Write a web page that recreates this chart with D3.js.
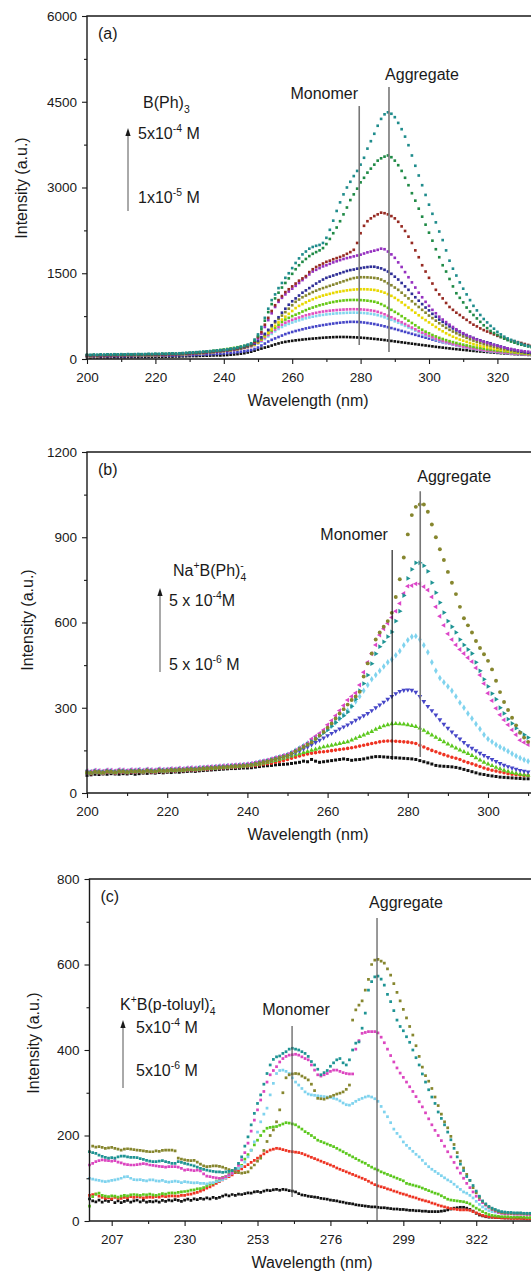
<!DOCTYPE html>
<html>
<head>
<meta charset="utf-8">
<script src="https://cdn.jsdelivr.net/npm/d3@7"></script>
<style>
body { margin: 0; background: #fff; }
text { font-family: "Liberation Sans", Arial, Helvetica, sans-serif; fill: #1a1a1a; }
</style>
</head>
<body>
<svg id="chart" width="531" height="1275"></svg>
<script>
// ---------- panel (a) B(Ph)3, one value per nm from 200 nm ----------
var aBlack = [28,26,30,27,29,31,28,30,32, 30,33,31,34,32,35,33,36,34,37, 36,38,40,38,41,43,42,45,44,47, 48,50,52,51,55,57,58,60,62,64, 62,66,70,75,80,86,93,102,115,128, 145,165,182,200,216,235,255,272,288,300, 310,318,326,333,340,346,352,357,362,367, 372,376,379,382,384,385,385,384,382,380, 377,373,369,364,358,352,346,339,332,324, 316,308,300,292,284,276,268,260,252,244, 237,229,221,213,206,199,192,185,178,172, 166,160,154,148,142,137,132,127,122,117, 112,107,102,98,94,90,86,82,78,75,72,70];
var aBlue = [48,46,50,47,52,49,51,48,53, 50,52,49,54,51,53,55,52,56,54, 57,55,58,60,57,62,60,63,65,63, 67,70,68,73,75,78,80,84,87,90, 94,98,103,108,114,120,128,136,146,158, 175,200,235,270,305,335,360,385,410,435, 455,473,490,505,520,535,548,560,572,583, 593,602,612,620,628,635,641,646,650,650, 648,644,638,630,621,611,599,586,572,557, 541,525,508,491,474,457,440,423,406,389, 373,357,340,324,309,294,280,267,255,244, 233,222,210,198,187,176,166,157,148,140, 132,125,119,113,107,102,97,92,87,83,79,75];
var aCyan = [58,56,60,57,62,59,63,60,65, 62,66,64,68,65,69,67,71,68,73, 71,75,73,78,76,80,82,79,84,87, 90,93,97,101,105,109,114,119,125,131, 137,143,150,157,165,174,185,197,211,226, 240,270,305,350,395,440,485,525,560,590, 615,638,658,677,695,712,727,740,752,763, 772,780,787,793,798,802,805,808,810,811, 810,808,804,798,790,780,767,750,730,708, 685,660,634,607,580,552,524,496,469,442, 416,391,367,345,324,304,286,268,252,237, 223,210,198,187,176,166,157,148,140,133, 126,120,114,108,103,98,93,88,84,80,76,72];
var aPink = [52,50,54,51,56,53,57,54,59, 56,60,58,62,59,63,61,65,62,67, 65,69,67,72,70,74,76,73,78,81, 85,88,92,96,100,104,109,114,120,126, 132,138,145,152,160,169,180,192,206,222, 245,280,320,370,420,470,515,560,600,635, 660,685,705,725,745,765,780,795,808,820, 830,838,845,851,856,861,865,868,870,871, 870,868,864,858,850,840,825,805,782,757, 730,702,673,643,612,581,550,519,489,460, 432,405,380,357,335,314,295,277,260,244, 230,217,205,193,182,172,163,154,146,139, 132,125,118,112,106,100,95,90,85,80,76,72];
var aLime = [66,60,68,63,70,65,72,67,74, 70,73,68,75,71,77,73,79,75,80, 78,82,80,85,83,88,90,87,93,96, 100,104,108,113,118,123,129,135,142,150, 158,166,175,185,195,206,218,230,240,250, 265,300,350,400,450,500,550,600,650,690, 720,750,775,800,830,855,880,900,920,940, 955,970,985,997,1008,1017,1024,1029,1032,1033, 1032,1030,1026,1020,1012,1002,985,960,930,895, 860,825,790,750,710,670,630,590,550,512, 478,450,420,395,370,350,330,312,295,280, 265,250,237,224,212,200,190,180,170,162, 155,148,141,134,127,120,113,106,99,92,86,80];
var aYellow = [54,52,56,53,58,55,59,56,61, 58,62,60,64,61,65,63,67,64,69, 67,71,69,74,72,76,78,75,80,83, 87,90,94,98,102,106,111,116,122,128, 134,140,147,154,162,171,182,195,210,228, 250,290,340,400,460,520,580,640,690,740, 790,840,890,930,960,990,1020,1045,1070,1090, 1110,1125,1140,1155,1170,1180,1190,1200,1208,1214, 1218,1220,1220,1218,1214,1208,1196,1180,1160,1135, 1105,1070,1030,990,945,900,855,810,765,720, 680,640,600,560,520,485,450,420,390,365, 340,320,300,280,262,245,230,216,204,192, 180,170,160,150,141,133,125,117,110,103,96,90];
var aOlive = [56,54,58,55,60,57,61,58,63, 60,64,62,66,63,67,65,69,66,71, 69,73,71,76,74,78,80,77,82,85, 89,92,96,100,104,108,113,118,124,130, 136,142,149,157,165,175,187,201,218,238, 262,300,350,420,500,570,640,700,760,820, 880,940,1000,1040,1080,1110,1140,1170,1195,1220, 1240,1260,1280,1300,1320,1340,1360,1380,1400,1415, 1425,1430,1430,1428,1424,1418,1410,1390,1360,1325, 1290,1250,1210,1160,1110,1060,1010,960,910,860, 810,760,715,670,625,585,545,510,480,450, 420,395,370,345,322,300,280,262,245,230, 215,200,185,172,160,148,138,128,118,108,100,94];
var aNavy = [59,57,61,58,63,60,64,61,66, 63,67,65,69,66,70,68,72,69,74, 72,76,74,79,77,81,83,80,85,88, 92,95,99,103,107,111,116,121,127,133, 139,145,152,160,168,178,190,205,222,243, 270,320,380,440,510,590,660,730,810,880, 950,1010,1060,1110,1160,1200,1240,1280,1320,1355, 1390,1420,1440,1460,1480,1500,1520,1540,1555,1565, 1580,1590,1600,1608,1614,1614,1600,1585,1560,1530, 1490,1440,1390,1330,1270,1210,1140,1080,1020,960, 900,850,790,740,690,650,610,570,535,500, 470,440,415,390,368,345,325,305,290,275, 250,235,218,200,185,170,155,142,130,120,110,102];
var aPurple = [62,60,64,61,66,63,67,64,69, 66,70,68,72,69,73,71,75,72,77, 75,79,77,82,80,84,86,83,88,91, 95,98,102,106,110,114,119,124,130,136, 142,148,155,163,172,183,196,212,230,252, 290,360,440,560,680,800,910,1000,1070,1130, 1180,1230,1280,1330,1380,1430,1480,1530,1560,1590, 1620,1640,1665,1690,1710,1730,1750,1765,1780,1795, 1810,1825,1845,1865,1880,1895,1910,1930,1920,1880, 1830,1770,1690,1610,1520,1430,1340,1250,1160,1080, 1000,930,860,800,740,690,645,600,560,520, 485,450,420,390,365,340,320,300,280,262, 245,230,215,200,187,175,163,152,142,134,128,122];
var aMaroon = [64,62,66,63,68,65,70,67,71, 69,72,70,74,71,76,73,77,75,79, 77,81,79,84,82,86,88,85,90,93, 97,101,104,108,112,116,121,126,132,138, 144,150,157,165,174,185,198,214,232,255, 300,380,470,600,720,840,940,1030,1100,1170, 1220,1270,1320,1370,1410,1450,1520,1570,1610,1640, 1670,1700,1720,1745,1765,1785,1810,1840,1870,1910, 2030,2200,2330,2410,2460,2500,2530,2560,2550,2530, 2500,2460,2400,2320,2240,2140,2030,1900,1780,1640, 1530,1420,1320,1210,1130,1060,980,910,860,810, 770,725,685,640,600,570,535,505,480,455, 430,405,385,365,345,325,310,295,280,262,245,232];
var aGreen = [70,68,72,69,74,71,76,73,77, 75,78,76,80,77,82,79,83,81,85, 83,87,85,90,88,92,94,91,96,99, 103,107,110,114,118,122,127,132,138,144, 150,156,163,171,180,192,206,222,240,262, 320,400,520,670,820,960,1060,1160,1250,1330, 1410,1490,1570,1640,1700,1750,1800,1840,1870,1900, 1940,2010,2100,2200,2300,2410,2530,2650,2780,2880, 2980,3090,3170,3260,3330,3400,3470,3510,3540,3560, 3530,3470,3390,3290,3170,3040,2900,2770,2630,2490, 2350,2210,2070,1920,1780,1640,1530,1400,1270,1150, 1070,990,900,830,770,710,650,590,540,490, 455,420,385,355,330,305,285,265,250,235,220,208];
var aTeal = [75,72,78,74,80,77,82,79,83, 80,84,81,86,83,85,88,84,87,90, 88,92,90,94,92,96,98,95,100,104, 108,112,115,120,124,128,133,138,144,150, 156,162,170,178,188,200,215,232,252,275, 340,430,560,720,880,1030,1130,1240,1330,1420, 1500,1590,1680,1760,1830,1880,1930,1960,1980,1995, 2030,2120,2260,2420,2590,2740,2880,3000,3100,3200, 3290,3400,3520,3680,3810,3940,4080,4200,4280,4315, 4290,4230,4130,4020,3890,3740,3560,3380,3210,3040, 2870,2700,2540,2390,2230,2080,1900,1720,1580,1460, 1340,1230,1130,1030,930,850,770,700,640,580, 530,475,430,390,360,335,315,290,265,245,230,218];
var aXTicks = [200, 220, 240, 260, 280, 300, 320];
var aXMinor = [210, 230, 250, 270, 290, 310, 330];
var aYTicks = [0, 1500, 3000, 4500, 6000];
var aYMinor = [750, 2250, 3750, 5250];

// ---------- panel (b) Na+B(Ph)4-, one value per nm from 200 nm ----------
var bBlack = [62,64,66,65,67,66,68,67,66,68, 67,69,66,68,70,69,71,70,72,71, 73,72,74,73,75,76,77,76,78,79, 80,81,82,83,84,85,86,86,87,88, 88,89,91,93,95,96,97,99,100,101, 102,104,106,108,112,110,118,112,108,110, 112,114,116,118,120,118,115,117,118,120, 123,126,128,128,127,126,125,124,123,122, 121,120,118,114,110,106,102,97,95,94, 93,92,90,87,83,79,75,71,67,65, 62,60,58,56,55,54,53,52,51,50, 50];
var bRed = [70,68,72,71,69,73,72,70,74,73, 71,74,73,75,72,76,74,73,77,75, 76,78,77,79,78,80,81,80,82,83, 84,85,86,87,88,89,90,91,92,93, 94,95,97,99,101,103,105,108,111,114, 118,122,126,130,134,137,140,142,144,145, 147,149,151,153,155,157,159,162,165,168, 171,174,177,180,182,183,183,182,181,180, 179,177,174,168,162,156,150,145,140,135, 130,126,122,118,112,107,103,98,93,88, 84,80,77,74,71,68,66,64,63,62, 62];
var bGreen = [72,70,74,73,71,75,74,72,76,75, 73,76,75,77,74,78,76,75,79,77, 78,80,79,81,80,82,83,82,84,85, 86,87,88,89,90,91,92,93,94,95, 96,98,100,102,105,108,111,114,118,122, 126,130,134,138,142,146,150,154,158,162, 165,168,171,174,177,180,186,192,198,204, 210,216,224,230,236,240,243,244,243,242, 240,237,234,228,220,212,204,196,188,180, 172,165,158,151,145,139,132,124,116,108, 102,96,90,85,80,76,72,69,66,64, 62];
var bBlue = [74,72,76,75,73,77,76,74,78,77, 75,78,77,79,76,80,78,77,81,79, 80,82,81,83,82,84,85,84,86,87, 88,89,90,91,92,93,94,95,96,97, 98,100,103,106,109,112,115,119,123,127, 131,136,142,148,155,162,170,178,186,194, 202,210,218,226,233,240,248,256,264,272, 280,290,300,310,320,330,340,350,358,362, 363,362,355,340,322,305,290,275,258,242, 228,215,202,190,178,167,158,149,140,132, 125,118,111,104,98,93,88,84,80,77, 74];
var bCyan = [76,74,78,77,75,79,78,76,80,79, 77,80,79,81,78,82,80,79,83,81, 82,84,83,85,84,86,87,86,88,89, 90,91,92,93,94,95,96,97,98,99, 100,102,105,108,111,114,118,122,126,130, 135,142,150,158,166,175,185,195,205,215, 225,236,248,262,275,290,305,322,340,360, 380,400,415,430,445,460,470,485,500,520, 538,550,552,540,520,495,460,430,405,390, 375,360,340,318,300,280,262,243,225,205, 190,180,170,162,155,147,138,130,123,117, 112];
var bMagenta = [78,76,80,79,77,81,80,78,82,81, 79,82,81,83,80,84,82,81,85,83, 84,86,85,87,86,88,89,88,90,91, 92,93,94,95,96,97,98,99,100,101, 102,104,107,110,113,116,120,124,128,132, 136,142,150,158,166,175,190,200,210,222, 240,255,272,290,308,327,340,352,380,425, 460,490,521,556,578,597,618,640,667,702, 728,730,736,736,726,714,690,655,622,590, 560,540,521,505,491,476,462,440,415,385, 351,325,298,275,257,240,222,205,186,178, 170];
var bTeal = [75,73,77,76,74,78,77,75,79,78, 76,79,78,80,77,81,79,78,82,80, 81,83,82,84,83,85,86,85,87,88, 89,90,91,92,93,94,95,96,97,98, 99,101,104,107,110,113,117,121,125,129, 133,140,148,156,164,172,182,192,202,212, 222,235,248,262,272,285,305,330,360,385, 415,455,490,515,532,550,567,605,640,695, 755,787,810,810,800,780,740,705,670,635, 605,585,565,540,521,505,491,460,430,400, 375,350,330,300,280,260,245,228,215,205, 195];
var bOlive = [73,71,75,74,72,76,75,73,77,76, 74,77,76,78,75,79,77,76,80,78, 79,81,80,82,81,83,84,83,85,86, 87,88,89,90,91,92,93,94,95,96, 97,99,102,105,108,111,115,119,123,127, 131,138,146,154,162,170,178,190,202,215, 230,245,262,280,295,311,327,340,356,410, 456,491,540,565,585,605,634,690,752,829, 910,978,1007,1015,1015,990,945,900,858,820, 778,740,700,655,615,590,565,535,510,488, 465,435,395,355,320,292,265,238,212,195, 180];
var bXTicks = [200, 220, 240, 260, 280, 300];
var bXMinor = [210, 230, 250, 270, 290, 310];
var bYTicks = [0, 300, 600, 900, 1200];
var bYMinor = [150, 450, 750, 1050];

// ---------- panel (c) K+B(p-toluyl)4-, one value per nm from 200 nm ----------
var cBlack = [52,47,45,49,44,48,46,50,43,47, 43,46,48,44,47,49,45,48,44,46, 45,47,44,48,46,49,47,50,48,46, 49,51,48,52,50,53,51,54,52,55, 53,55,58,61,59,62,60,63,62,64, 66,65,68,69,67,70,72,71,73,74, 72,74,73,71,70,68,64,61,60,58, 57,56,55,53,52,51,49,48,47,45, 44,42,41,40,38,37,36,35,34,33, 33,32,31,31,30,29,28,28,27,27, 26,25,25,24,24,23,23,22,22,22, 22,23,24,26,28,30,31,32,32,30, 27,23,18,14,12,10,9,9,8,8, 8,7,7,7,7,7,7,6,6,6];
var cRed = [60,62,63,58,55,53,54,52,55,53, 53,55,54,57,55,57,56,54,55,56, 55,57,56,58,57,58,59,58,58,60, 60,62,63,65,67,70,73,77,80,84, 88,92,96,100,104,108,113,118,122,127, 132,137,142,147,152,157,162,166,168,170, 169,167,165,163,162,161,160,158,155,152, 149,146,143,140,137,134,131,128,124,121, 118,115,112,109,106,103,100,97,93,89, 85,82,80,78,75,73,70,68,65,63, 61,58,56,54,51,49,47,45,42,40, 37,35,33,31,29,28,27,26,26,26, 25,22,19,16,13,11,10,9,8,8, 7,7,7,6,6,6,6,6,5,5];
var cGreen = [35,57,63,65,60,58,57,59,58,56, 58,60,59,61,62,61,60,62,61,63, 61,60,62,64,63,65,66,65,67,68, 69,70,72,73,75,76,78,82,86,88, 93,98,102,104,110,117,120,123,130,145, 155,166,178,189,200,210,217,219,220,221, 224,227,230,229,227,225,220,215,209,205, 200,195,189,186,183,180,177,174,170,166, 162,158,154,150,146,142,138,135,130,126, 122,119,115,112,109,106,103,100,97,94, 88,86,84,82,80,77,74,71,68,65, 63,59,55,51,49,48,47,46,45,43, 40,35,30,26,22,18,15,13,12,11, 10,10,10,9,9,9,9,9,8,8];
var cCyan = [100,98,96,95,93,92,93,95,96,98, 100,103,104,100,97,96,97,95,94,96, 96,94,93,95,92,91,92,93,92,90, 92,91,90,89,90,88,88,87,89,90, 92,94,97,101,106,112,117,123,128,138, 150,165,185,208,232,250,264,295,322,345, 352,353,350,345,335,325,318,310,302,297, 295,294,293,292,291,290,289,287,285,281, 276,272,271,275,280,284,287,290,292,290, 286,280,268,255,244,230,215,205,197,185, 177,170,163,156,150,142,134,127,121,116, 111,106,101,96,92,86,80,74,68,65, 60,54,46,39,33,28,24,22,21,20, 19,18,18,18,17,17,17,17,16,16];
var cMagenta = [131,135,139,141,143,142,141,140,141,138, 136,133,132,131,131,132,133,134,133,131, 130,129,128,127,126,127,127,127,126,123, 119,120,119,118,119,117,110,105,104,102, 101,100,101,104,108,112,120,130,143,160, 182,210,236,260,283,303,325,342,352,361, 372,380,385,388,389,390,388,384,380,377, 365,353,342,339,342,345,350,353,353,350, 347,345,344,344,402,422,439,441,443,443, 443,440,430,417,402,387,372,358,346,336, 325,314,303,291,279,267,253,239,225,212, 200,188,175,162,150,137,124,112,100,88, 78,68,58,50,43,37,32,27,23,20, 18,17,17,17,16,16,16,16,15,15];
var cTeal = [162,160,158,154,151,149,147,148,147,150, 152,152,150,149,149,148,146,144,142,140, 139,139,140,141,139,137,135,135,139,137, 135,133,131,129,126,123,121,119,117,116, 115,115,114,115,116,118,123,135,150,175, 197,225,252,275,295,320,345,365,378,384, 386,392,396,402,404,402,400,396,392,385, 373,365,355,342,347,352,362,370,377,380, 370,365,377,400,416,419,451,486,540,560, 571,573,566,552,530,513,492,470,455,445, 431,418,400,382,365,344,325,307,290,275, 255,240,225,208,190,170,150,133,118,104, 95,83,70,58,47,40,34,30,27,24, 22,21,20,20,19,19,19,18,18,18];
var cOlive = [162,175,173,174,172,170,171,172,170,168, 166,168,169,168,167,166,165,164,163,162, 162,164,163,165,166,166,166,164,147,145, 143,142,141,142,138,133,129,127,128,129, 129,128,126,123,120,118,115,113,112,113, 115,124,131,140,147,165,186,200,213,232, 260,300,335,342,344,345,344,339,335,330, 320,305,287,286,285,288,291,294,297,299, 302,308,318,470,494,505,515,540,565,600, 610,612,608,603,590,575,555,535,515,495, 475,455,435,410,385,360,340,327,310,290, 270,250,232,218,198,179,160,140,124,109, 95,78,66,55,46,39,33,28,25,22, 20,19,19,18,18,18,18,17,17,17];
var cXTicks = [207, 230, 253, 276, 299, 322];
var cXMinor = [218.5, 241.5, 264.5, 287.5, 310.5, 333.5];
var cYTicks = [0, 200, 400, 600, 800];
var cYMinor = [100, 300, 500, 700];

var svg = d3.select('#chart');
var INK = '#1a1a1a';

function styleAxis(sel) {
  sel.select('.domain').remove();
  sel.attr('font-size', 13.5).attr('font-family', '"Liberation Sans", Arial, sans-serif');
  sel.selectAll('line').attr('stroke', INK).attr('stroke-width', 1.1);
  sel.selectAll('text').attr('fill', INK);
}

// text with sub/superscript pieces
function rich(x0, y0, parts, size, anchor) {
  var t = svg.append('text').attr('x', x0).attr('y', y0).attr('font-size', size);
  if (anchor) t.attr('text-anchor', anchor);
  var shift = 0;
  parts.forEach(function (pt) {
    if (typeof pt === 'string') pt = { t: pt };
    var target = pt.sup ? -size * 0.42 : pt.sub ? size * 0.3 : 0;
    var ts = t.append('tspan').attr('dy', target - shift).text(pt.t);
    if (pt.sup || pt.sub) ts.attr('font-size', size * 0.65);
    if (pt.dx) ts.attr('dx', pt.dx);
    shift = target;
  });
  return t;
}

function arrow(xp, yTip, yEnd) {
  svg.append('line').attr('x1', xp).attr('x2', xp).attr('y1', yTip + 5).attr('y2', yEnd)
    .attr('stroke', '#555').attr('stroke-width', 1);
  svg.append('path')
    .attr('d', 'M' + (xp - 2.6) + ',' + (yTip + 8) + 'L' + xp + ',' + yTip + 'L' + (xp + 2.6) + ',' + (yTip + 8) + 'Z')
    .attr('fill', INK);
}

function drawPanel(p) {
  var x = d3.scaleLinear().domain(p.xDomain).range(p.xRange);
  var y = d3.scaleLinear().domain([0, p.yMax]).range([p.bottom, p.top]);
  var g = svg.append('g');
  var x0 = p.xRange[0];

  g.append('clipPath').attr('id', 'clip-' + p.id)
    .append('rect').attr('x', x0 - 2).attr('y', p.top)
    .attr('width', 540 - x0).attr('height', p.bottom - p.top + 1);
  var plot = g.append('g').attr('clip-path', 'url(#clip-' + p.id + ')');

  p.series.forEach(function (s) {
    var sym = d3.symbol().type(s.shape || d3.symbolSquare).size(s.size || p.markSize);
    plot.append('g').selectAll('path')
      .data(s.values)
      .join('path')
      .attr('d', sym)
      .attr('transform', function (v, i) {
        return 'translate(' + x(p.start + i) + ',' + y(v) + ')' + (s.rotate ? ' rotate(' + s.rotate + ')' : '');
      })
      .attr('fill', s.color);
  });

  // monomer / aggregate guide lines
  p.guides.forEach(function (m) {
    g.append('line')
      .attr('x1', x(m.w)).attr('x2', x(m.w))
      .attr('y1', y(m.from)).attr('y2', y(m.to))
      .attr('stroke', m.color).attr('stroke-width', m.width);
    g.append('text')
      .attr('x', x(m.w) + m.dx).attr('y', m.ty)
      .attr('text-anchor', 'middle').attr('font-size', 16)
      .text(m.label);
  });

  g.append('g').attr('transform', 'translate(0,' + p.bottom + ')')
    .call(d3.axisBottom(x).tickValues(p.xMinor).tickSize(3).tickFormat(''))
    .call(styleAxis);
  g.append('g').attr('transform', 'translate(0,' + p.bottom + ')')
    .call(d3.axisBottom(x).tickValues(p.xTicks).tickSize(5).tickPadding(8).tickFormat(d3.format('d')))
    .call(styleAxis);
  g.append('g').attr('transform', 'translate(' + x0 + ',0)')
    .call(d3.axisLeft(y).tickValues(p.yMinor).tickSize(3).tickFormat(''))
    .call(styleAxis);
  g.append('g').attr('transform', 'translate(' + x0 + ',0)')
    .call(d3.axisLeft(y).tickValues(p.yTicks).tickSize(5).tickPadding(5).tickFormat(d3.format('d')))
    .call(styleAxis);

  // frame: top, left, bottom (right side runs off the page)
  g.append('path')
    .attr('d', 'M531,' + p.top + 'H' + x0 + 'V' + p.bottom + 'H531')
    .attr('fill', 'none').attr('stroke', INK).attr('stroke-width', 1.4);

  g.append('text').attr('x', x0 + 11).attr('y', p.top + 23).attr('font-size', 16).text(p.tag);

  g.append('text')
    .attr('x', p.titleX).attr('y', p.bottom + 47)
    .attr('text-anchor', 'middle').attr('font-size', 16)
    .text('Wavelength (nm)');
  g.append('text')
    .attr('transform', 'translate(' + p.yTitle[0] + ',' + p.yTitle[1] + ') rotate(-90)')
    .attr('text-anchor', 'middle').attr('font-size', 16)
    .text('Intensity (a.u.)');
}

drawPanel({
  id: 'a', tag: '(a)', start: 200,
  xDomain: [200, 340], xRange: [87, 565.8], top: 16, bottom: 359, yMax: 6000,
  xTicks: aXTicks, xMinor: aXMinor, yTicks: aYTicks, yMinor: aYMinor,
  markSize: 7, titleX: 308, yTitle: [27, 188],
  series: [
    { values: aBlack, color: '#111111' },
    { values: aBlue, color: '#4646c8' },
    { values: aCyan, color: '#82d6ee' },
    { values: aPink, color: '#e050c0' },
    { values: aLime, color: '#66c814' },
    { values: aYellow, color: '#e8d800' },
    { values: aOlive, color: '#86862e' },
    { values: aNavy, color: '#2e2e96' },
    { values: aPurple, color: '#9530c0' },
    { values: aMaroon, color: '#962a22' },
    { values: aGreen, color: '#1f8a46' },
    { values: aTeal, color: '#1f8c8c' }
  ],
  guides: [
    { w: 279.6, from: 4425, to: 245, color: '#777', width: 1.6, label: 'Monomer', dx: -35, ty: 99 },
    { w: 288.3, from: 4758, to: 122, color: '#777', width: 1.6, label: 'Aggregate', dx: 33, ty: 80 }
  ]
});
rich(143, 108, ['B(Ph)', { t: '3', sub: true }], 16);
rich(138, 139, ['5x10', { t: '-4', sup: true }, ' M'], 16);
rich(138, 203, ['1x10', { t: '-5', sup: true }, ' M'], 16);
arrow(128, 128, 211);

drawPanel({
  id: 'b', tag: '(b)', start: 200,
  xDomain: [200, 320], xRange: [87, 568.2], top: 452, bottom: 793, yMax: 1200,
  xTicks: bXTicks, xMinor: bXMinor, yTicks: bYTicks, yMinor: bYMinor,
  markSize: 10, titleX: 308, yTitle: [33, 620],
  series: [
    { values: bBlack, color: '#111111', shape: d3.symbolSquare, size: 9 },
    { values: bRed, color: '#ee3322', shape: d3.symbolCircle },
    { values: bGreen, color: '#5cc81e', shape: d3.symbolTriangle },
    { values: bBlue, color: '#4646c8', shape: d3.symbolTriangle, rotate: 180 },
    { values: bCyan, color: '#7fd3ee', shape: d3.symbolDiamond, size: 12 },
    { values: bMagenta, color: '#dc46c8', shape: d3.symbolTriangle, rotate: -90 },
    { values: bTeal, color: '#1f9494', shape: d3.symbolTriangle, rotate: 90 },
    { values: bOlive, color: '#86862e', shape: d3.symbolCircle, size: 12 }
  ],
  guides: [
    { w: 276.1, from: 855, to: 116, color: '#111', width: 1.1, label: 'Monomer', dx: -38, ty: 540 },
    { w: 283.1, from: 1062, to: 127, color: '#777', width: 1.6, label: 'Aggregate', dx: 34, ty: 482 }
  ]
});
rich(173, 576, ['Na', { t: '+', sup: true }, 'B(Ph)', { t: '4', sub: true }, { t: '-', sup: true, dx: -6 }], 16);
rich(169, 606, ['5 x 10', { t: '-4', sup: true }, 'M'], 16);
rich(169, 670, ['5 x 10', { t: '-6', sup: true }, ' M'], 16);
arrow(160, 588, 672);

drawPanel({
  id: 'c', tag: '(c)', start: 200,
  xDomain: [200, 345], xRange: [89.5, 549.15], top: 879, bottom: 1221, yMax: 800,
  xTicks: cXTicks, xMinor: cXMinor, yTicks: cYTicks, yMinor: cYMinor,
  markSize: 7.5, titleX: 312, yTitle: [39, 1043],
  series: [
    { values: cBlack, color: '#111111' },
    { values: cRed, color: '#ee3322' },
    { values: cGreen, color: '#5cc81e' },
    { values: cCyan, color: '#7fd3ee' },
    { values: cMagenta, color: '#dc46c0' },
    { values: cOlive, color: '#86862e' },
    { values: cTeal, color: '#1f9494' }
  ],
  guides: [
    { w: 263.9, from: 456, to: 56, color: '#555', width: 1.2, label: 'Monomer', dx: 4, ty: 1015 },
    { w: 290.7, from: 709, to: 2, color: '#555', width: 1.2, label: 'Aggregate', dx: 29, ty: 908 }
  ]
});
rich(120, 1010, ['K', { t: '+', sup: true }, 'B(p-toluyl)', { t: '4', sub: true }, { t: '-', sup: true, dx: -6 }], 16);
rich(136, 1033, ['5x10', { t: '-4', sup: true }, ' M'], 16);
rich(136, 1076, ['5x10', { t: '-6', sup: true }, ' M'], 16);
arrow(123, 1020, 1088);
</script>
</body>
</html>
